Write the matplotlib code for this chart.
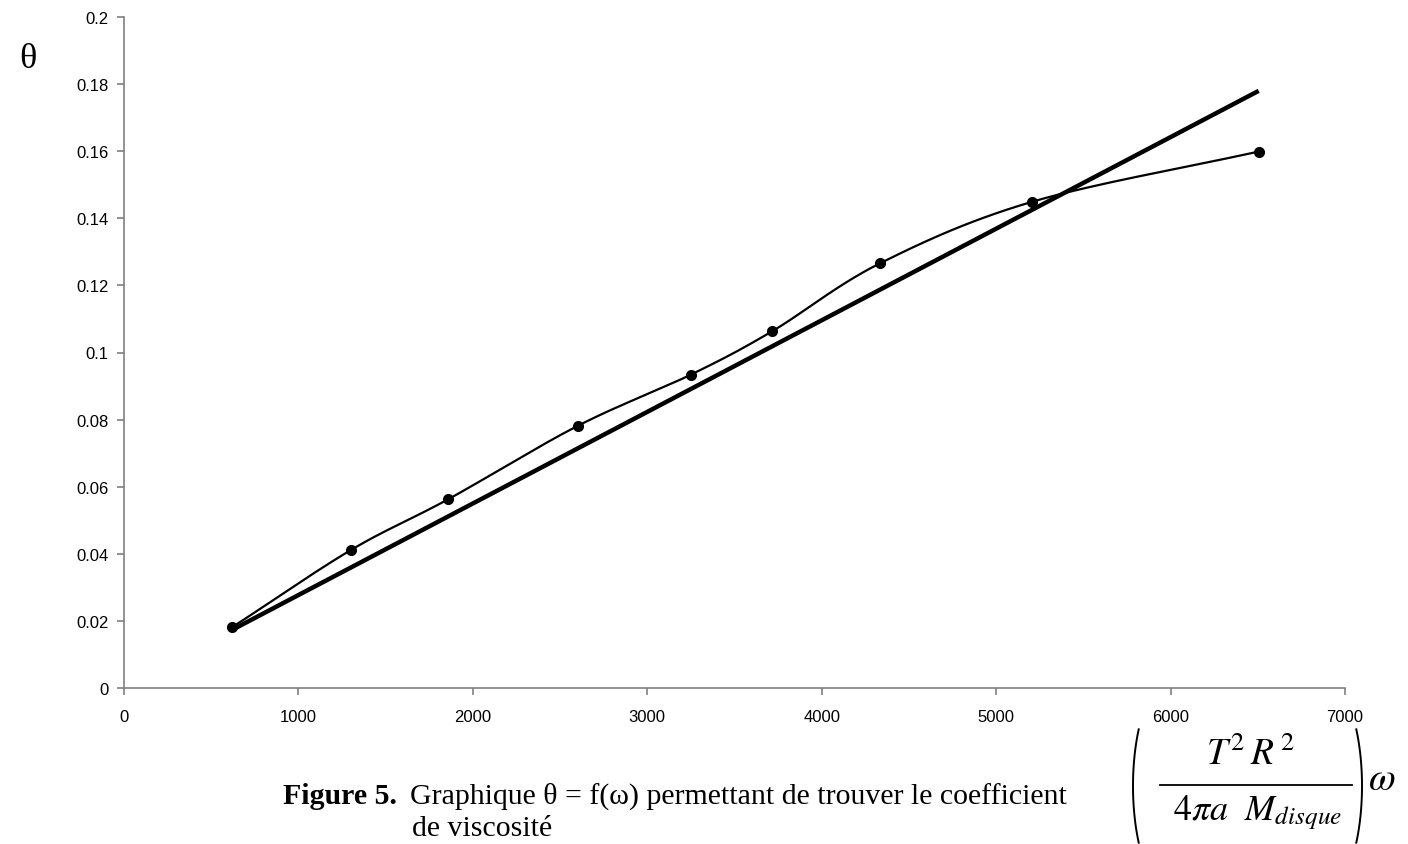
import numpy as np
import matplotlib
matplotlib.use("Agg")
import matplotlib.pyplot as plt

# Data
omega = [620, 1300, 1860, 2600, 3250, 3715, 4335, 5205, 6505]
theta = [0.0181, 0.0411, 0.0563, 0.0781, 0.0934, 0.1063, 0.1266, 0.1449, 0.1599]
fit_slope = 2.73e-5
fit_intercept = 0.0004

x_ticks = [0, 1000, 2000, 3000, 4000, 5000, 6000, 7000]
y_ticks = [0, 0.02, 0.04, 0.06, 0.08, 0.1, 0.12, 0.14, 0.16, 0.18, 0.2]
y_ticklabels = ["0", "0.02", "0.04", "0.06", "0.08", "0.1", "0.12", "0.14", "0.16", "0.18", "0.2"]

plt.rcParams['mathtext.fontset'] = 'stix'

def catmull_rom(xs, ys, n=30):
    P = np.column_stack([xs, ys]).astype(float)
    P = np.vstack([P[0] - (P[1] - P[0]), P, P[-1] + (P[-1] - P[-2])])
    out = []
    t = np.linspace(0, 1, n)[:, None]
    for i in range(1, len(P) - 2):
        p0, p1, p2, p3 = P[i - 1], P[i], P[i + 1], P[i + 2]
        seg = 0.5 * ((2 * p1) + (-p0 + p2) * t + (2 * p0 - 5 * p1 + 4 * p2 - p3) * t ** 2
                     + (-p0 + 3 * p1 - 3 * p2 + p3) * t ** 3)
        out.append(seg if i == len(P) - 3 else seg[:-1])
    S = np.vstack(out)
    return S[:, 0], S[:, 1]

W, H = 1408, 845
fig = plt.figure(figsize=(W / 100, H / 100), dpi=100)
ax = fig.add_axes([124 / W, 1 - 689 / H, (1345 - 124) / W, (689 - 18) / H])

sx, sy = catmull_rom(omega, theta)
ax.plot(sx, sy, color='black', lw=1.6, zorder=3)
ax.plot(omega, theta, 'o', color='black', ms=7, zorder=4)

fx = np.array([min(omega), max(omega)])
ax.plot(fx, fit_slope * fx + fit_intercept, color='black', lw=3.2, zorder=2,
        solid_capstyle='butt')

ax.set_xlim(0, 7000)
ax.set_ylim(0, 0.2)
ax.set_xticks(x_ticks)
ax.set_xticklabels([str(v) for v in x_ticks])
ax.set_yticks(y_ticks)
ax.set_yticklabels(y_ticklabels)
for s in ['top', 'right']:
    ax.spines[s].set_visible(False)
for s in ['left', 'bottom']:
    ax.spines[s].set_color('#808080')
    ax.spines[s].set_linewidth(1.2)
ax.tick_params(axis='both', direction='out', length=5, width=1.2, color='#808080',
               labelsize=12)
ax.tick_params(axis='y', pad=6)
ax.tick_params(axis='x', pad=10)
for lab in ax.get_xticklabels() + ax.get_yticklabels():
    lab.set_family('Liberation Sans')

# overlay in pixel coordinates for the annotation text
ov = fig.add_axes([0, 0, 1, 1], facecolor='none')
ov.set_xlim(0, W)
ov.set_ylim(H, 0)
ov.axis('off')

ov.text(28, 60, 'θ', family='Liberation Serif', fontsize=26, ha='center', va='center')

cap_size = 21.5
ov.text(283, 804, 'Figure 5.', family='Liberation Serif', fontweight='bold',
        fontsize=cap_size, ha='left', va='baseline')
ov.text(410, 804, 'Graphique θ = f(ω) permettant de trouver le coefficient',
        family='Liberation Serif', fontsize=cap_size, ha='left', va='baseline')
ov.text(412, 836, 'de viscosité', family='Liberation Serif', fontsize=cap_size,
        ha='left', va='baseline')

# formula (T^2 R^2 / (4 pi a M_disque)) omega
fs = 26
ov.text(1250, 765, r'$T^{2}\,R^{\,2}$', fontsize=fs + 1, ha='center', va='baseline')
ov.plot([1160, 1352], [786, 786], color='black', lw=1.3)
ov.text(1258, 820, r'$4\pi a\ \ M_{disque}$', fontsize=fs, ha='center', va='baseline')

# large parentheses drawn as elliptic arcs
t = np.radians(np.linspace(-31, 31, 60))
rx, ry, cy = 40, 110, 787
ov.plot(1173 - rx * np.cos(t), cy + ry * np.sin(t), color='black', lw=1.4)
ov.plot(1322 + rx * np.cos(t), cy + ry * np.sin(t), color='black', lw=1.4)

ov.text(1368, 790, r'$\omega$', fontsize=fs + 2, ha='left', va='baseline')

fig.savefig('out.png', dpi=100, facecolor='white')
